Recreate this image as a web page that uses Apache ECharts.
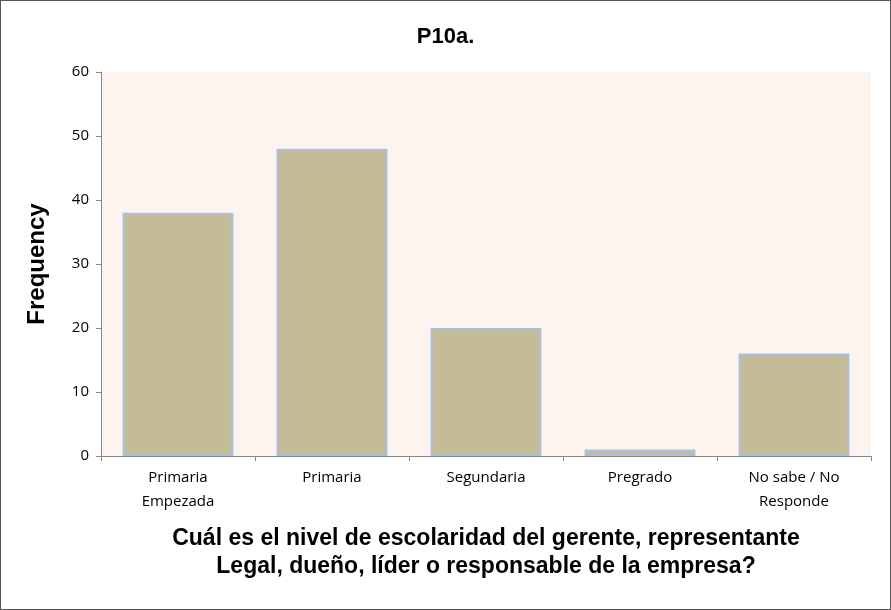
<!DOCTYPE html>
<html><head><meta charset="utf-8">
<script src="https://cdn.jsdelivr.net/npm/echarts@6/dist/echarts.min.js"></script>
<style>html,body{margin:0;padding:0;background:#fff}#c{width:889px;height:608px;border:1px solid #555}</style>
</head><body><div id="c"></div>
<script>
const categories = ['Primaria\nEmpezada','Primaria','Segundaria','Pregrado','No sabe / No\nResponde'];
const frequency = [38, 48, 20, 1, 16];
const yTicks = {min:0, max:60, interval:10};
const chart = echarts.init(document.getElementById('c'));
chart.setOption({
  animation:false,
  title:{text:'P10a.',left:'center',top:20,textStyle:{fontFamily:'Arial, Liberation Sans',fontSize:22,fontWeight:'bold',color:'#000'}},
  grid:{left:100,right:19,top:71,bottom:153,show:true,backgroundColor:'#FDF4EF',borderWidth:0},
  xAxis:{type:'category',data:categories,
    axisLine:{lineStyle:{color:'#888'}},axisTick:{show:true,lineStyle:{color:'#888'}},
    axisLabel:{fontFamily:'Open Sans',fontSize:15,color:'#000',lineHeight:24,margin:10},
    name:'Cuál es el nivel de escolaridad del gerente, representante\nLegal, dueño, líder o responsable de la empresa?',
    nameLocation:'middle',nameGap:69,
    nameTextStyle:{fontFamily:'Arial, Liberation Sans',fontSize:23,fontWeight:'bold',color:'#000',lineHeight:28}},
  yAxis:{type:'value',min:yTicks.min,max:yTicks.max,interval:yTicks.interval,
    axisLine:{show:true,lineStyle:{color:'#888'}},axisTick:{show:true,lineStyle:{color:'#888'}},
    splitLine:{show:false},
    axisLabel:{fontFamily:'Open Sans',fontSize:15,color:'#000',margin:12},
    name:'Frequency',nameLocation:'middle',nameGap:52,
    nameTextStyle:{fontFamily:'Arial, Liberation Sans',fontSize:24,fontWeight:'bold',color:'#000'}},
  series:[{type:'bar',data:frequency,barCategoryGap:'28%',
    itemStyle:{color:'#C4BC96',borderColor:'#A9BFE0',borderWidth:2}}]
});
</script></body></html>
